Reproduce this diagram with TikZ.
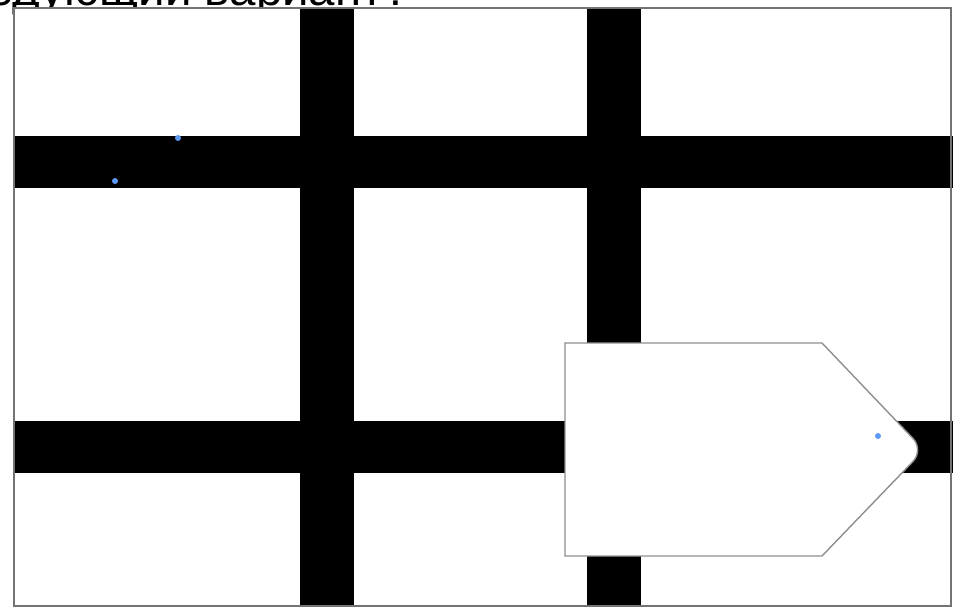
\documentclass[tikz,border=0pt]{standalone}
\usepackage{fontspec}
\setmainfont{Liberation Sans}
\definecolor{framegray}{gray}{0.45}
\definecolor{dotblue}{rgb}{0.36,0.60,0.95}
\tikzset{
  roadbar/.style={fill=black,draw=none},
  framebox/.style={draw=framegray,line width=0.6pt},
  bldg/.style={draw=framegray!80,fill=white,line width=0.8pt},
  bluedot/.style={circle,fill=dotblue,inner sep=0pt,minimum size=3.4pt},
  cuttitle/.style={font=\fontsize{27}{32}\selectfont,inner sep=0pt},
}
\begin{document}
\begin{tikzpicture}[x=0.02cm,y=-0.02cm]
  \useasboundingbox (0,0) rectangle (953,608);
  \clip (0,0) rectangle (953,608);
  \fill[white] (0,0) rectangle (953,608);
  % --- title, only its lower part shows ---
  \node[cuttitle,anchor=base east] (title) at (410,6) {Следующий вариант?};
  % --- background sheet ---
  \fill[white] (14,8) rectangle (953,606);
  % --- black roads ---
  \def\va{300}\def\vb{587}\def\vw{54}
  \def\ha{136}\def\hb{421}\def\hw{52}
  \foreach \x in {\va,\vb}
    \fill[roadbar] (\x,8) rectangle (\x+\vw,606);
  \foreach \y in {\ha,\hb}
    \fill[roadbar] (14,\y) rectangle (953,\y+\hw);
  \draw[framebox] (14,8) rectangle (951,606);
  % --- pentagon block on the lower road ---
  \draw[bldg] (565,343) -- (822,343) [rounded corners=9pt] -- (924,450)
    [sharp corners] -- (822,556) -- (565,556) -- cycle;
  % --- blue markers ---
  \node[bluedot] (m1) at (178,138) {};
  \node[bluedot] (m2) at (115,181) {};
  \node[bluedot] (m3) at (878,436) {};
\end{tikzpicture}
\end{document}
